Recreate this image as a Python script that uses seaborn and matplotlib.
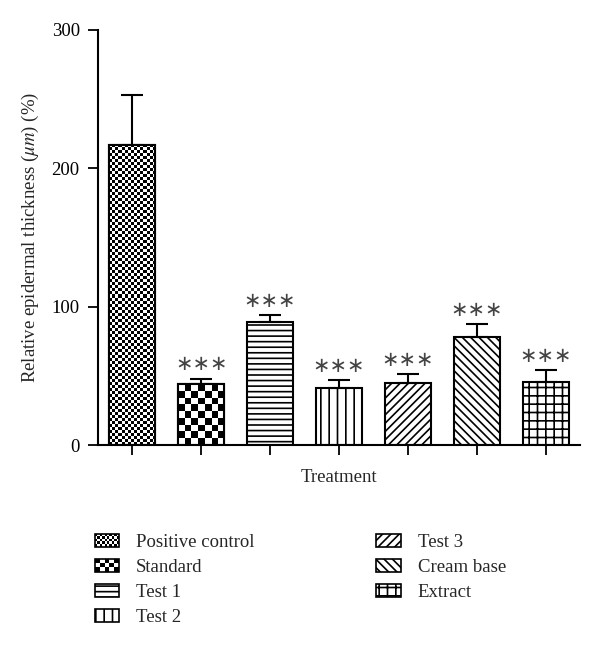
import numpy as np
import pandas as pd
import seaborn as sns
import matplotlib.pyplot as plt
from matplotlib.patches import Rectangle

# values
treatments = ["Positive control", "Standard", "Test 1", "Test 2", "Test 3", "Cream base", "Extract"]
thickness = [217, 44, 89, 41, 45, 78, 45.5]
sem = [36, 4, 5, 6, 6, 9.5, 8.5]
stars = ["", "***", "***", "***", "***", "***", "***"]

# fill styles: checker cell size in px, or a hatch string
checker_px = {"Positive control": 3, "Standard": 6.5}
hatches = {"Test 1": "---", "Test 2": "||", "Test 3": "////",
           "Cream base": "\\\\\\\\", "Extract": "++"}

sns.set_theme(style="ticks")
plt.rcParams["font.family"] = ["Liberation Serif", "DejaVu Serif"]
plt.rcParams["mathtext.fontset"] = "stix"
plt.rcParams["hatch.linewidth"] = 1.2

df = pd.DataFrame({"Treatment": treatments, "Thickness": thickness})

fig = plt.figure(figsize=(6, 6.46), dpi=100)
ax = fig.add_axes([0.163, 0.311, 0.804, 0.643])

sns.barplot(data=df, x="Treatment", y="Thickness", hue="Treatment",
            palette=["white"] * len(treatments), edgecolor="black",
            linewidth=1.5, width=0.67, errorbar=None, legend=False, ax=ax)

ax.errorbar(np.arange(len(treatments)), thickness,
            yerr=[np.zeros(len(sem)), sem], fmt="none",
            ecolor="black", elinewidth=1.5, capsize=8, capthick=1.5, zorder=1)

ax.set_xlim(-0.5, 6.5)
ax.set_ylim(0, 300)
ax.set_yticks([0, 100, 200, 300])
ax.set_xticks(range(len(treatments)))
ax.set_xticklabels([])
ax.set_xlabel("Treatment", fontsize=13.5, labelpad=7)
ax.set_ylabel(r"Relative epidermal thickness ($\mu m$) (%)", fontsize=13.5, labelpad=8)
ax.tick_params(axis="both", length=7, width=1.3, colors="black", labelsize=13.5)
ax.tick_params(axis="y", pad=6)
for s in ["left", "bottom"]:
    ax.spines[s].set_linewidth(1.5)
    ax.spines[s].set_color("black")
sns.despine(ax=ax)

fig.canvas.draw()


def checker(nx, ny):
    ii, jj = np.indices((ny, nx))
    return ((ii + jj) % 2).astype(float)


for bar, name in zip(ax.patches, treatments):
    if name in hatches:
        bar.set_hatch(hatches[name])
    elif name in checker_px:
        bb = bar.get_window_extent()
        cell = checker_px[name]
        nx = max(1, int(round(bb.width / cell)))
        ny = max(1, int(round(bb.height / cell)))
        x0, y0 = bar.get_x(), bar.get_y()
        im = ax.imshow(checker(nx, ny), cmap="gray_r", vmin=0, vmax=1,
                       extent=[x0, x0 + bar.get_width(), y0, y0 + bar.get_height()],
                       aspect="auto", interpolation="nearest", zorder=bar.get_zorder() + 0.1)
        im.set_clip_path(bar)
        edge = Rectangle((x0, y0), bar.get_width(), bar.get_height(), fill=False,
                         edgecolor="black", linewidth=1.5, zorder=bar.get_zorder() + 0.2)
        ax.add_patch(edge)

ax.set_xlim(-0.5, 6.5)
ax.set_ylim(0, 300)

for i, s in enumerate(stars):
    if s:
        ax.annotate(s.replace("*", "\u2217"), (i, thickness[i] + sem[i]), xytext=(0, 3),
                    textcoords="offset points", ha="center", va="bottom",
                    fontsize=15, color="#444444", family="DejaVu Sans")


class CheckerHandler:
    def __init__(self, n):
        self.n = n

    def legend_artist(self, legend, orig_handle, fontsize, handlebox):
        x0, y0 = handlebox.xdescent, handlebox.ydescent
        w, h = handlebox.width, handlebox.height
        nx, ny = self.n
        cw, ch = w / nx, h / ny
        for i in range(nx):
            for j in range(ny):
                if (i + j) % 2 == 0:
                    handlebox.add_artist(Rectangle((x0 + i * cw, y0 + j * ch), cw, ch,
                                                   facecolor="black", edgecolor="none",
                                                   transform=handlebox.get_transform()))
        border = Rectangle((x0, y0), w, h, facecolor="none", edgecolor="black",
                           linewidth=1.2, transform=handlebox.get_transform())
        handlebox.add_artist(border)
        return border


handles = []
handler_map = {}
for name in treatments:
    p = Rectangle((0, 0), 1, 1, facecolor="white", edgecolor="black", linewidth=1.2,
                  hatch=hatches.get(name, None))
    handles.append(p)
    if name == "Positive control":
        handler_map[p] = CheckerHandler((10, 5))
    elif name == "Standard":
        handler_map[p] = CheckerHandler((5, 3))

fig.legend(handles, treatments, handler_map=handler_map, loc="upper left",
           bbox_to_anchor=(0.158, 0.174), ncol=2, frameon=False, fontsize=13.5,
           handlelength=1.3, handleheight=0.7, handletextpad=0.9,
           labelspacing=0.42, columnspacing=6.5, borderpad=0, borderaxespad=0)

fig.savefig("out.png", dpi=100)
